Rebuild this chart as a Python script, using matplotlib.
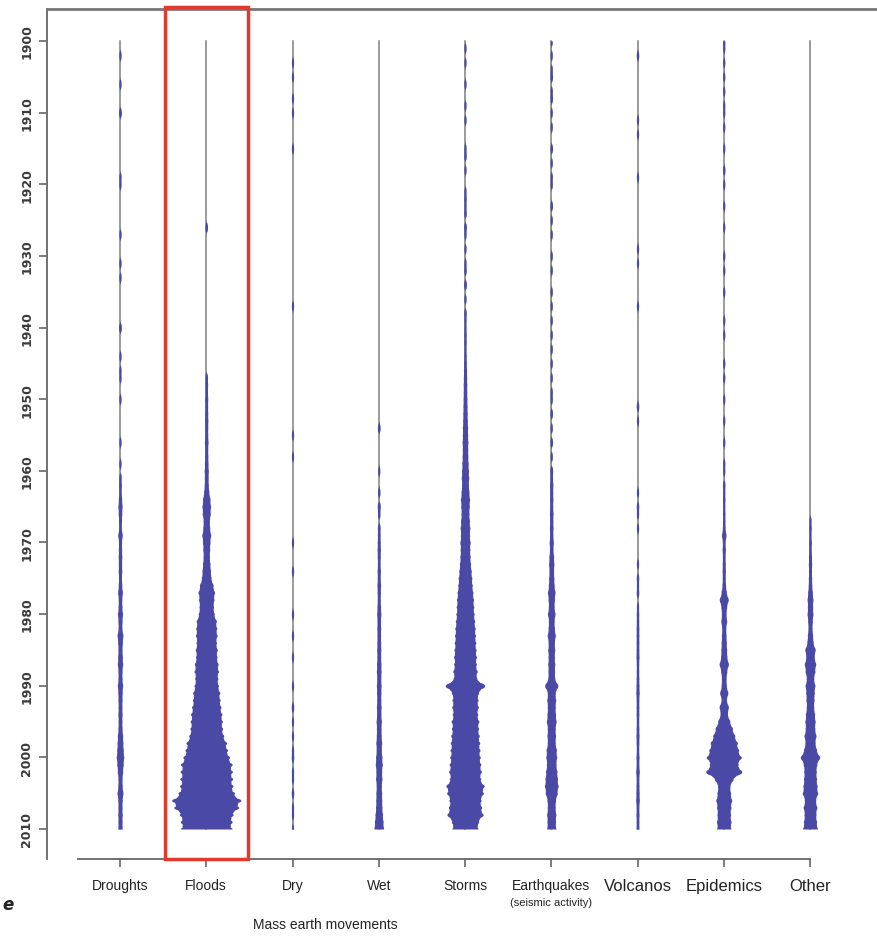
"""Bean-style chart of disaster counts per year, 1900-2010"""

import numpy as np
import matplotlib
matplotlib.use('Agg')
import matplotlib.pyplot as plt
from matplotlib.patches import Rectangle

categories = ['Droughts', 'Floods', 'Dry', 'Wet', 'Storms', 'Earthquakes',
              'Volcanos', 'Epidemics', 'Other']
years = np.arange(1900, 2011)

# estimated number of events per year, one row per decade (1900s ... 2000s + 2010)
droughts = [0, 0, 1, 0, 0, 0, 1, 0, 0, 0,
            3, 0, 0, 0, 0, 0, 0, 0, 0, 1,
            1, 0, 0, 0, 0, 0, 0, 1, 0, 0,
            0, 1, 0, 1, 0, 0, 0, 0, 0, 0,
            3, 0, 0, 0, 1, 0, 1, 1, 0, 0,
            1, 0, 0, 0, 0, 0, 1, 0, 0, 1,
            0, 2, 3, 2, 5, 8, 6, 4, 3, 9,
            4, 5, 6, 5, 6, 4, 6, 10, 6, 7,
            11, 8, 7, 14, 10, 8, 10, 12, 8, 8,
            12, 9, 8, 7, 8, 7, 8, 12, 14, 17,
            20, 16, 12, 8, 9, 14, 9, 8, 9, 8,
            9]
floods = [0, 0, 0, 0, 0, 0, 0, 0, 0, 0,
          0, 0, 0, 0, 0, 0, 0, 0, 0, 0,
          0, 0, 0, 0, 0, 0, 2, 0, 0, 0,
          0, 0, 0, 0, 0, 0, 0, 0, 0, 0,
          0, 0, 0, 0, 0, 0, 0, 2, 3, 2,
          4, 3, 4, 5, 4, 4, 6, 4, 5, 6,
          8, 7, 8, 12, 20, 24, 22, 16, 18, 25,
          20, 18, 16, 20, 24, 28, 42, 52, 48, 45,
          50, 65, 68, 70, 66, 72, 70, 78, 80, 76,
          80, 90, 92, 98, 105, 108, 110, 118, 138, 145,
          160, 178, 180, 182, 184, 195, 240, 225, 185, 178,
          178]
dry = [0, 0, 0, 1, 0, 1, 0, 0, 1, 0,
       1, 0, 0, 0, 0, 1, 0, 0, 0, 0,
       0, 0, 0, 0, 0, 0, 0, 0, 0, 0,
       0, 0, 0, 0, 0, 0, 0, 1, 0, 0,
       0, 0, 0, 0, 0, 0, 0, 0, 0, 0,
       0, 0, 0, 0, 0, 1, 0, 0, 1, 0,
       0, 0, 0, 0, 0, 0, 0, 0, 0, 0,
       1, 0, 0, 0, 1, 0, 0, 0, 0, 0,
       1, 0, 0, 1, 0, 0, 1, 0, 0, 0,
       1, 0, 0, 2, 0, 1, 0, 1, 0, 1,
       2, 0, 1, 1, 0, 2, 0, 1, 1, 0,
       1]
wet = [0, 0, 0, 0, 0, 0, 0, 0, 0, 0,
       0, 0, 0, 0, 0, 0, 0, 0, 0, 0,
       0, 0, 0, 0, 0, 0, 0, 0, 0, 0,
       0, 0, 0, 0, 0, 0, 0, 0, 0, 0,
       0, 0, 0, 0, 0, 0, 0, 0, 0, 0,
       0, 0, 0, 0, 3, 0, 0, 0, 0, 0,
       1, 0, 0, 2, 0, 4, 2, 0, 3, 3,
       4, 5, 4, 3, 5, 4, 6, 5, 4, 6,
       8, 6, 7, 6, 7, 8, 7, 9, 10, 8,
       10, 9, 8, 10, 9, 12, 10, 11, 14, 12,
       16, 18, 14, 16, 12, 14, 15, 16, 20, 24,
       28]
storms = [0, 1, 0, 1, 0, 0, 1, 0, 0, 1,
          0, 1, 0, 0, 0, 1, 2, 0, 1, 0,
          0, 1, 2, 1, 2, 0, 3, 1, 0, 1,
          0, 1, 2, 0, 3, 0, 1, 0, 2, 1,
          1, 2, 2, 1, 2, 3, 4, 5, 6, 6,
          7, 8, 9, 10, 12, 12, 14, 13, 14, 16,
          18, 20, 18, 22, 26, 24, 22, 25, 28, 26,
          30, 28, 30, 33, 38, 42, 45, 50, 54, 56,
          58, 62, 66, 68, 70, 72, 75, 74, 80, 78,
          134, 90, 86, 88, 84, 92, 90, 95, 98, 100,
          102, 106, 110, 105, 130, 124, 108, 112, 122, 90,
          86]
earthquakes = [1, 0, 1, 0, 1, 2, 0, 1, 2, 0,
               1, 0, 1, 0, 0, 2, 0, 1, 0, 1,
               1, 0, 0, 2, 0, 1, 0, 1, 0, 0,
               1, 0, 1, 0, 0, 1, 0, 1, 0, 1,
               0, 1, 0, 1, 0, 1, 0, 1, 0, 1,
               1, 0, 2, 0, 1, 0, 2, 0, 1, 0,
               3, 2, 5, 4, 5, 4, 6, 5, 6, 5,
               8, 6, 10, 12, 10, 12, 14, 20, 16, 14,
               20, 14, 16, 22, 16, 18, 16, 18, 17, 18,
               40, 22, 25, 22, 24, 28, 22, 24, 22, 30,
               32, 28, 34, 38, 42, 36, 24, 22, 26, 24,
               26]
volcanos = [0, 0, 2, 0, 0, 0, 0, 0, 0, 0,
            0, 1, 0, 1, 0, 0, 0, 0, 0, 1,
            0, 0, 0, 0, 0, 0, 0, 0, 0, 1,
            0, 1, 0, 0, 0, 0, 0, 1, 0, 0,
            0, 0, 0, 0, 0, 0, 0, 0, 0, 0,
            0, 2, 0, 1, 0, 0, 0, 0, 0, 0,
            0, 0, 0, 1, 0, 2, 1, 0, 1, 0,
            0, 0, 0, 1, 0, 2, 1, 2, 0, 1,
            2, 2, 3, 3, 3, 3, 4, 2, 2, 3,
            4, 5, 3, 3, 3, 2, 3, 4, 3, 2,
            4, 3, 6, 3, 4, 5, 6, 3, 4, 3,
            4]
epidemics = [2, 1, 0, 1, 0, 1, 0, 1, 0, 1,
             1, 0, 1, 0, 0, 1, 0, 0, 2, 0,
             1, 0, 0, 1, 0, 0, 1, 0, 0, 0,
             1, 0, 1, 0, 0, 1, 0, 0, 0, 1,
             0, 1, 0, 0, 0, 1, 0, 1, 0, 0,
             1, 0, 0, 1, 0, 0, 1, 0, 0, 1,
             1, 0, 2, 1, 2, 1, 2, 2, 3, 9,
             3, 5, 3, 4, 5, 4, 6, 12, 25, 14,
             10, 14, 8, 10, 12, 14, 16, 26, 15, 10,
             12, 22, 12, 26, 20, 36, 55, 72, 90, 100,
             118, 96, 122, 60, 38, 42, 50, 44, 42, 45,
             44]
other = [0, 0, 0, 0, 0, 0, 0, 0, 0, 0,
         0, 0, 0, 0, 0, 0, 0, 0, 0, 0,
         0, 0, 0, 0, 0, 0, 0, 0, 0, 0,
         0, 0, 0, 0, 0, 0, 0, 0, 0, 0,
         0, 0, 0, 0, 0, 0, 0, 0, 0, 0,
         0, 0, 0, 0, 0, 0, 0, 0, 0, 0,
         0, 0, 0, 0, 0, 0, 0, 1, 2, 1,
         3, 2, 4, 5, 4, 5, 6, 10, 14, 12,
         14, 10, 8, 12, 16, 30, 24, 34, 28, 20,
         28, 24, 22, 20, 26, 30, 28, 36, 30, 40,
         62, 42, 38, 40, 44, 48, 34, 42, 36, 40,
         46]

series = [droughts, floods, dry, wet, storms, earthquakes, volcanos, epidemics, other]

bean_color = '#4a4aa6'
line_color = '#808080'
font_narrow = ['Liberation Sans', 'DejaVu Sans']
px = 86.25  # pixels per category step

fig = plt.figure(figsize=(8.77, 9.37), dpi=100)
ax = fig.add_axes([47 / 877, 1 - 860 / 937, 830 / 877, 850 / 937])

yy = np.linspace(1900, 2010, 5501)
for i, counts in enumerate(series):
    xc = i + 1
    counts = np.array(counts, dtype=float)
    hw = np.where(counts > 0, (1.0 + 0.14 * counts) / px, 0.0)
    # rounded bump for each year on top of a softened linear profile
    prof = np.interp(yy, years, hw) * 0.93
    for yr, h in zip(years, hw):
        if h <= 0:
            continue
        d = (yy - yr) / 0.7
        bump = h * np.sqrt(np.clip(1 - d ** 2, 0, None))
        prof = np.maximum(prof, bump)
    ax.plot([xc, xc], [1900, 2010], color=line_color, lw=1.1, zorder=2)
    ax.fill_betweenx(yy, xc - prof, xc + prof, color=bean_color, lw=0, zorder=3)

ax.set_xlim(1 - 73 / px, 1 + 757 / px)
ax.set_ylim(2010 + 30 / 7.1636, 1900 - 32 / 7.1636)

ax.spines['right'].set_visible(False)
ax.spines['top'].set_color('#777777')
ax.spines['top'].set_linewidth(2)
ax.spines['left'].set_color('#666666')
ax.spines['left'].set_linewidth(1.3)
ax.spines['bottom'].set_color('#666666')
ax.spines['bottom'].set_linewidth(1.3)
ax.spines['bottom'].set_bounds(1 - 42 / px, 9)

ax.set_yticks(np.arange(1900, 2011, 10))
ax.set_yticklabels([str(y) for y in range(1900, 2011, 10)], rotation=90,
                   va='center', fontsize=9, fontweight='bold', color='#3a3a3a')
ax.tick_params(axis='y', length=6, width=1.2, color='#666666', pad=4)

ax.set_xticks(np.arange(1, 10))
ax.set_xticklabels(categories, fontsize=10, color='#222222', family=font_narrow)
ax.tick_params(axis='x', length=6, width=1.2, color='#666666', pad=8)
for lab in ax.get_xticklabels():
    if lab.get_text() in ('Volcanos', 'Epidemics', 'Other'):
        lab.set_fontsize(12)

ax.text(6, -0.045, '(seismic activity)', transform=ax.get_xaxis_transform(),
        ha='center', va='top', fontsize=8, color='#222222', family=font_narrow)
ax.text(3.38, -0.068, 'Mass earth movements', transform=ax.get_xaxis_transform(),
        ha='center', va='top', fontsize=10, color='#222222', family=font_narrow)
fig.text(2 / 877, 1 - 905 / 937, 'e', ha='left', va='center', fontsize=12,
         fontweight='bold', style='italic', color='#222222')

# red highlight box around Floods
ax.add_patch(Rectangle((2 - 41 / px, 2010 + 30 / 7.1636), 83 / px,
                       -(852 / 7.1636), fill=False, edgecolor='#e03a2e',
                       lw=2.5, clip_on=False, zorder=5))

fig.savefig('out.png', dpi=100)
